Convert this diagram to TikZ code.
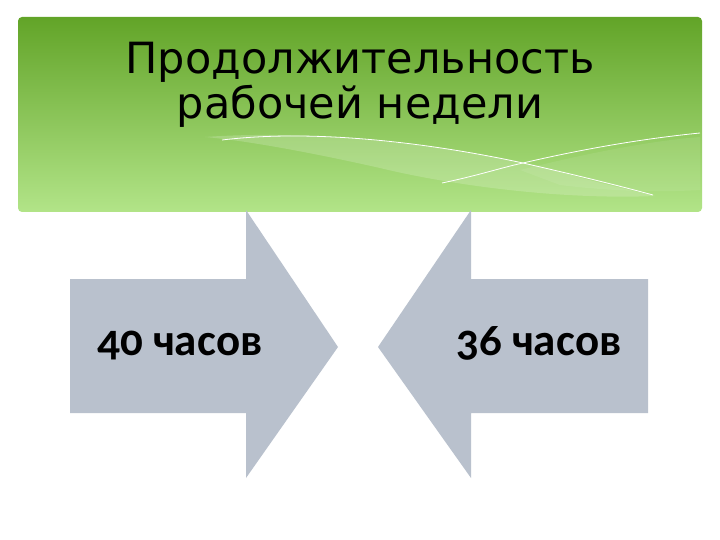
\documentclass[tikz,border=0pt]{standalone}
\usepackage{fontspec}
\newfontfamily\titlefont{DejaVu Sans}
\newfontfamily\bodyfont[Numbers=OldStyle]{Carlito}
\definecolor{gtop}{RGB}{98,164,40}
\definecolor{gbot}{RGB}{178,228,136}
\definecolor{arrowgray}{RGB}{185,193,205}
\begin{document}
\begin{tikzpicture}[x=1pt,y=-1pt,
  arrowshape/.style={fill=arrowgray,draw=none},
  deco/.style={draw=white,line width=0.8pt},
  lbl/.style={font=\bodyfont\bfseries\fontsize{45}{50}\selectfont,anchor=base west,inner sep=0pt}]
\useasboundingbox (0,0) rectangle (720,540);
\fill[white] (0,0) rectangle (720,540);
% header
\shade[top color=gtop,bottom color=gbot,rounded corners=4pt] (18,17) rectangle (702,212);
\fill[white,opacity=0.18] (205,137) .. controls (330,128) and (480,150) .. (560,172)
  .. controls (610,186) and (640,192) .. (655,196)
  .. controls (560,200) and (450,185) .. (380,168)
  .. controls (300,150) and (240,140) .. (205,137) -- cycle;
\fill[white,opacity=0.08] (520,170) .. controls (600,150) and (660,140) .. (700,137)
  -- (700,190) .. controls (650,193) and (600,190) .. (560,185) -- cycle;
\draw[deco] (222,140) .. controls (320,128) and (440,145) .. (523,163) .. controls (580,176) and (620,186) .. (653,195);
\draw[deco] (442,183) .. controls (480,175) and (500,168) .. (523,163) .. controls (600,145) and (660,137) .. (700,133);
\node[font=\titlefont\fontsize{43}{45}\selectfont,align=center,inner sep=0pt,anchor=base] (title) at (360,119) {Продолжительность\\рабочей недели};
% arrows
\fill[arrowshape] (70,279) -- (246,279) -- (246,210) -- (338,347) -- (246,478) -- (246,413) -- (70,413) -- cycle;
\fill[arrowshape] (648,279) -- (471,279) -- (471,210) -- (378,347) -- (471,478) -- (471,413) -- (648,413) -- cycle;
\node[lbl] (l1) at (97,355) {40 часов};
\node[lbl] (l2) at (456,355) {36 часов};
\end{tikzpicture}
\end{document}
